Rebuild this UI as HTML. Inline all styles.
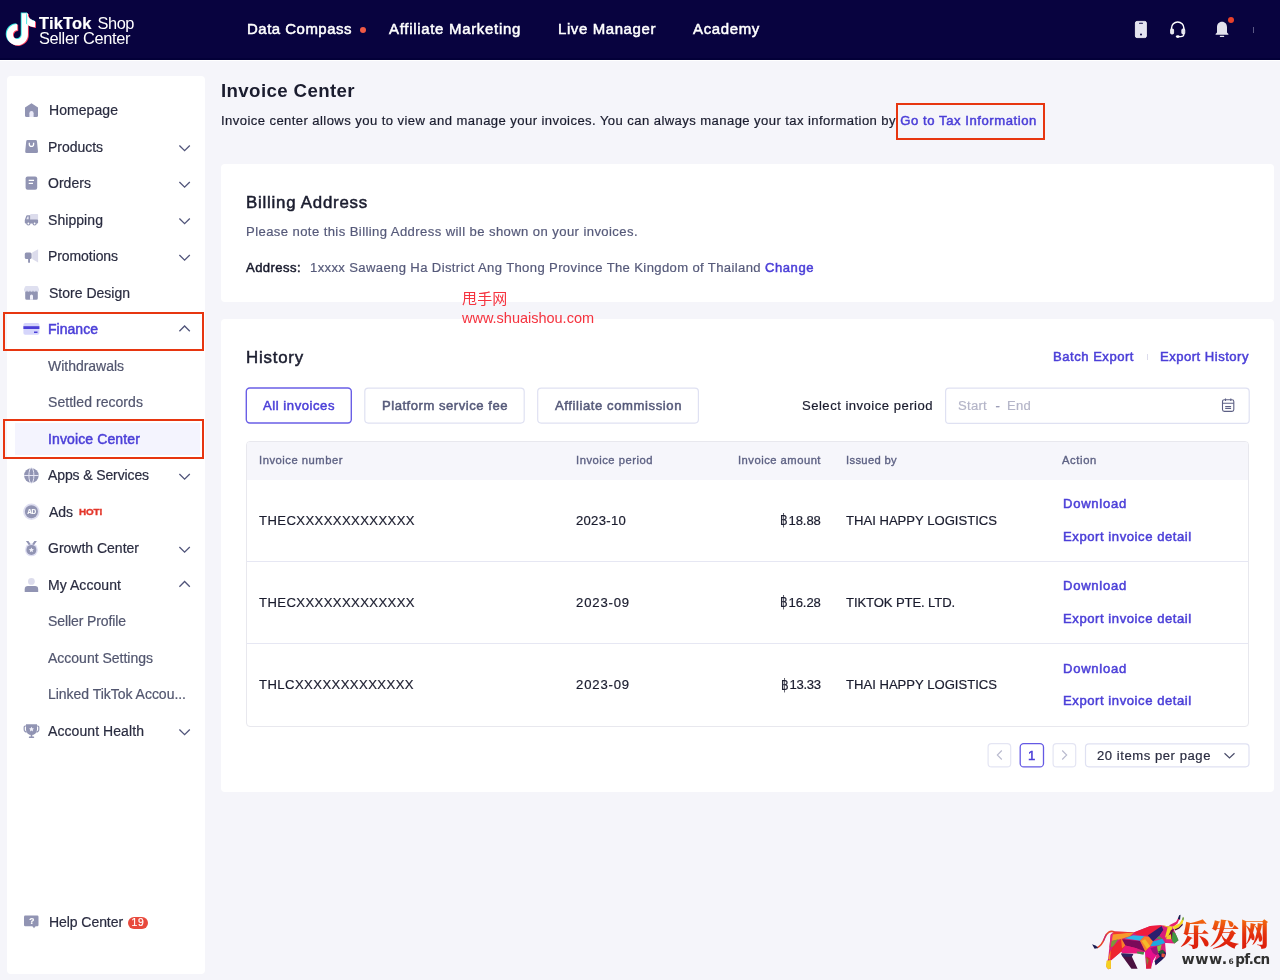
<!DOCTYPE html>
<html lang="en">
<head>
<meta charset="utf-8">
<title>Invoice Center</title>
<style>
*{box-sizing:border-box;margin:0;padding:0}
html,body{width:1280px;height:980px;overflow:hidden}
body{background:#f5f5fa;font-family:"Liberation Sans","Noto Sans CJK SC",sans-serif;color:#1c1c28;font-size:14px;position:relative}
.t{position:absolute;white-space:nowrap}
.a{position:absolute}
#hdr{left:0;top:0;width:1280px;height:60px;background:#08033f}
#side{left:7px;top:75.700px;width:198px;height:898.300px;background:#fff;border-radius:4px}
.card{left:221px;width:1053px;background:#fff;border-radius:4px}
.redbox{border:2.200px solid #e73610}
.tab{top:387.500px;height:36.500px;border:1px solid #dfe0f0;border-radius:4px;background:#fff}
.pg{top:743px;width:24px;height:24px;border:1px solid #e6e6f3;border-radius:4px;background:#fff}
svg{position:absolute;overflow:visible}
</style>
</head>
<body>
<div class="a" id="hdr"></div>
<div class="a" style="left:0;top:57.800px;width:1280px;height:2.200px;background:#030038"></div>
<div class="a" style="left:0;top:60px;width:1280px;height:1.200px;background:#fff"></div>
<!-- logo -->
<svg style="left:0;top:0" width="60" height="60" viewBox="0 0 60 60">
  <g fill="none" stroke-linejoin="miter">
    <path id="nt" d="M24.8 13.2V34.6a7.5 7.5 0 1 1-7.5-7.5" stroke="#35e6e0" stroke-width="6.3" transform="translate(-0.9,-0.7)"/>
    <path d="M24.8 13.2V34.6a7.5 7.5 0 1 1-7.5-7.5" stroke="#ff3b5c" stroke-width="6.3" transform="translate(0.9,0.7)"/>
    <path d="M24.8 13.2V34.6a7.5 7.5 0 1 1-7.5-7.5" stroke="#fff" stroke-width="6.3"/>
  </g>
  <path d="M27.2 12.8c.6 4.6 3.6 7.7 7.9 8.2v6.2c-3-.1-5.8-1.100-8-2.800z" fill="#35e6e0" transform="translate(-0.9,-0.7)"/>
  <path d="M27.2 12.8c.6 4.600 3.600 7.700 7.900 8.200v6.200c-3-.1-5.800-1.100-8-2.800z" fill="#ff3b5c" transform="translate(0.9,0.7)"/>
  <path d="M27.200 12.800c.6 4.600 3.600 7.700 7.900 8.200v6.200c-3-.1-5.800-1.100-8-2.800z" fill="#fff"/>
</svg>
<div class="a" style="left:359.800px;top:26.700px;width:6.200px;height:6.200px;border-radius:50%;background:#f05a46"></div>
<!-- header right icons -->
<svg style="left:1135px;top:21px" width="12" height="17" viewBox="0 0 12 17">
  <rect x="0.4" y="0.400" width="11" height="16.2" rx="1.6" fill="#e4e4f0" stroke="#fff" stroke-width=".8"/>
  <rect x="4" y="1.8" width="4" height="1" rx=".5" fill="#0a0440"/>
  <circle cx="6" cy="13.6" r="1" fill="#0a0440"/>
</svg>
<svg style="left:1169px;top:20px" width="18" height="19" viewBox="0 0 18 19" fill="none" stroke="#fff">
  <path d="M2.500 10.500V8.200a6.200 6.200 0 0 1 12.400 0v2.300" stroke-width="1.500"/>
  <rect x="1.600" y="9" width="3" height="5" rx="1" fill="#e4e4f0" stroke-width=".8"/>
  <rect x="12.800" y="9" width="3" height="5" rx="1" fill="#e4e4f0" stroke-width=".8"/>
  <path d="M14.900 13.500v.8c0 1.500-1.200 2.300-3.200 2.300h-2" stroke-width="1.200"/>
  <ellipse cx="8.800" cy="16.600" rx="1.900" ry="1.300" fill="#fff" stroke="none"/>
</svg>
<svg style="left:1215px;top:21px" width="14" height="17" viewBox="0 0 14 17">
  <path d="M7 .8C3.900.8 2 3.200 2 6.200v5.300L.6 12.900v.9h12.800v-.9L12 11.500V6.200c0-3-1.900-5.400-5-5.400z" fill="#e2e2ec"/>
  <rect x="4.800" y="14.800" width="4.400" height="1.200" rx=".6" fill="#e2e2ec"/>
</svg>
<div class="a" style="left:1227.800px;top:16.800px;width:6.400px;height:6.400px;border-radius:50%;background:#e8412b"></div>
<div class="a" style="left:1252.500px;top:26.500px;width:1px;height:6px;background:#5b5985"></div>

<!-- sidebar -->
<div class="a" id="side"></div>
<div class="a" style="left:15px;top:423px;width:185px;height:32px;background:#f4f4fe"></div>
<div class="a redbox" style="left:3.400px;top:311.900px;width:200.600px;height:39.200px;border-width:2.500px"></div>
<div class="a redbox" style="left:2.800px;top:419.200px;width:201px;height:39.500px"></div>
<svg style="left:0;top:0" width="210" height="980" viewBox="0 0 210 980">
<path d="M25 107.600L31.500 103.300L38 107.600V115.400a1.500 1.500 0 0 1-1.500 1.500H26.500a1.500 1.500 0 0 1-1.500-1.500z" fill="#9194b3"/>
<path d="M29.400 116.900V113.200a2.100 2.100 0 0 1 4.200 0V116.900z" fill="#ebebf9"/>
<path d="M27.700 140H35.500a1.500 1.500 0 0 1 1.500 1.400L38 151.400a1.600 1.600 0 0 1-1.600 1.700H26.800a1.600 1.600 0 0 1-1.600-1.700L26.200 141.400a1.500 1.500 0 0 1 1.500-1.400z" fill="#9194b3"/>
<path d="M29.300 142.700v1.600a2.150 2.150 0 0 0 4.300 0v-1.600" fill="none" stroke="#fff" stroke-width="1.300"/>
<rect x="25.600" y="176.400" width="11.600" height="13.300" rx="2" fill="#9194b3"/>
<path d="M28.700 180.300H34M28.700 183.300H33" stroke="#fff" stroke-width="1.200" fill="none"/>
<rect x="30.200" y="214" width="7.900" height="6" rx=".8" fill="#dcdcec"/>
<path d="M24.800 220L26.300 215.800a1 1 0 0 1 .9-.6H30.200V220z" fill="#9194b3"/>
<rect x="24.800" y="219.600" width="13.300" height="4" rx="1" fill="#9194b3"/>
<circle cx="28.400" cy="223.500" r="2.100" fill="#9194b3"/><circle cx="34.600" cy="223.500" r="2.100" fill="#9194b3"/>
<circle cx="28.400" cy="223.500" r=".9" fill="#fff"/><circle cx="34.600" cy="223.500" r=".9" fill="#fff"/>
<path d="M26.400 219.300L27.500 216.400H28.600V219.300z" fill="#e8e8f4"/>
<rect x="24.800" y="252.400" width="6.800" height="6.700" rx="1.500" fill="#9194b3"/>
<rect x="28.100" y="258.500" width="1.900" height="4.200" rx=".5" fill="#9194b3"/>
<path d="M32.200 252.600L38.100 249.300V262.600L32.200 259z" fill="#dcdcec"/>
<path d="M25.200 290H37.800V298.300a1.500 1.500 0 0 1-1.500 1.500H26.700a1.500 1.500 0 0 1-1.500-1.500z" fill="#9194b3"/>
<path d="M26 286H37a1 1 0 0 1 .9.600L39 289.300V290.300a1.500 1.500 0 0 1-3 0a1.500 1.500 0 0 1-3 0a1.500 1.500 0 0 1-3 0a1.500 1.500 0 0 1-3 0a1.500 1.500 0 0 1-3 0V289.300L25.100 286.600a1 1 0 0 1 .9-.6z" fill="#dfe0f0"/>
<path d="M30 299.800V296a1.500 1.500 0 0 1 3 0V299.800z" fill="#f2f2fb"/>
<rect x="23.400" y="323.100" width="16" height="11.600" rx="1.800" fill="#d5d5fb"/>
<rect x="23.400" y="326.200" width="16" height="2.800" fill="#4b3fd8"/>
<rect x="34" y="331.500" width="3.500" height="1.500" fill="#4b3fd8"/>
<circle cx="31.400" cy="475.500" r="7.300" fill="#9194b3"/>
<path d="M24.100 475.500H38.700" stroke="#e6e6f4" stroke-width="1"/>
<ellipse cx="31.400" cy="475.500" rx="2.500" ry="7.800" fill="none" stroke="#e6e6f4" stroke-width="1"/>
<circle cx="31.400" cy="511.700" r="8.200" fill="#dedef0"/>
<circle cx="31.400" cy="511.700" r="6.500" fill="#9194b3"/>
<circle cx="31.400" cy="549.900" r="6.400" fill="#dedef2"/>
<circle cx="31.400" cy="549.900" r="5" fill="#9194b3"/>
<path d="M25.900 540.900H28.400L30.700 544.200L28.800 545zM36.900 540.900H34.400L32.100 544.200L34 545z" fill="#9194b3"/>
<path d="M31.400 547.400l.75 1.600 1.750.2-1.300 1.200.35 1.750-1.550-.9-1.550.9.350-1.750-1.300-1.200 1.750-.2z" fill="#f2f2fb"/>
<circle cx="31.400" cy="581.400" r="3.400" fill="#dcdcec"/>
<path d="M24.700 591.900V589.200a3.200 3.200 0 0 1 3.200-3.200h7.100a3.200 3.200 0 0 1 3.200 3.200v2.700z" fill="#9194b3"/>
<path d="M26 724.300H37V729.500a5.500 5.500 0 0 1-11 0z" fill="#9194b3"/>
<path d="M26 726H25.200a1 1 0 0 0-1 1V729.500a2.500 2.500 0 0 0 2.500 2.500M37 726H37.800a1 1 0 0 1 1 1V729.500a2.500 2.500 0 0 1-2.500 2.500" fill="none" stroke="#9194b3" stroke-width="1.200"/>
<rect x="30.700" y="734" width="1.600" height="3.200" fill="#9194b3"/><rect x="28.800" y="736.600" width="5.400" height="1.300" rx=".6" fill="#9194b3"/>
<path d="M31.500 726.700l.8 1.600 1.700.2-1.300 1.200.35 1.700-1.550-.85-1.550.85.350-1.700-1.300-1.200 1.700-.2z" fill="#f2f2fb"/>
<rect x="24" y="915.600" width="14.500" height="10.700" rx="1.200" fill="#9194b3"/>
<path d="M32.300 926L34 928.200L35.700 926z" fill="#9194b3"/>
<path d="M179.400 145.5L184.600 150.7L189.800 145.5" fill="none" stroke="#50547a" stroke-width="1.300"/>
<path d="M179.400 182.0L184.600 187.2L189.800 182.0" fill="none" stroke="#50547a" stroke-width="1.300"/>
<path d="M179.400 218.5L184.600 223.7L189.800 218.5" fill="none" stroke="#50547a" stroke-width="1.300"/>
<path d="M179.400 255.0L184.600 260.2L189.800 255.0" fill="none" stroke="#50547a" stroke-width="1.300"/>
<path d="M179.400 474.0L184.600 479.2L189.800 474.0" fill="none" stroke="#50547a" stroke-width="1.300"/>
<path d="M179.400 547.0L184.600 552.2L189.800 547.0" fill="none" stroke="#50547a" stroke-width="1.300"/>
<path d="M179.400 729.5L184.600 734.7L189.800 729.5" fill="none" stroke="#50547a" stroke-width="1.300"/>
<path d="M179.400 331.2L184.600 326.0L189.800 331.2" fill="none" stroke="#50547a" stroke-width="1.300"/>
<path d="M179.400 586.7L184.600 581.5L189.800 586.7" fill="none" stroke="#50547a" stroke-width="1.300"/>
</svg>
<!-- main -->
<div class="a redbox" style="left:896.200px;top:102.900px;width:149.100px;height:37px"></div>
<div class="a card" style="top:163.800px;height:138.400px"></div>
<div class="a card" style="top:318.800px;height:472.900px"></div>
<div class="a" style="left:1146.500px;top:354px;width:1px;height:6px;background:#dcdcec"></div>
<svg style="left:0;top:0" width="1280" height="980" viewBox="0 0 1280 980" fill="#fff">
  <rect x="246.300" y="388" width="105" height="35" rx="3.500" stroke="#6a5fe6" stroke-width="1.400"/>
  <rect x="364.800" y="388.100" width="159.400" height="35" rx="3.500" stroke="#dfe1f2" stroke-width="1.200"/>
  <rect x="537.700" y="388.100" width="160.700" height="35" rx="3.500" stroke="#dfe1f2" stroke-width="1.200"/>
  <rect x="945.600" y="388.100" width="303.600" height="35.300" rx="3.500" stroke="#dfe1f2" stroke-width="1.200"/>
</svg>
<svg style="left:1221px;top:398px" width="15" height="15" viewBox="0 0 15 15" fill="none" stroke="#5d6085" stroke-width="1.100">
  <rect x="1.500" y="1.700" width="11.300" height="11.700" rx="1.800"/>
  <path d="M1.500 5.200h11.300M4.500.6v2.400M9.800.6v2.400M4.200 8.600h5.900M4.200 10.500h5.900"/>
</svg>
<!-- table -->
<div class="a" style="left:246px;top:440.500px;width:1003px;height:286px;border:1px solid #e8e8ee;border-radius:4px;background:#fff;overflow:hidden">
  <div class="a" style="left:0;top:0;width:1002px;height:38.500px;background:#f6f6fb"></div>
  <div class="a" style="left:0;top:119.700px;width:1002px;height:1px;background:#e6e7f3"></div>
  <div class="a" style="left:0;top:201.900px;width:1002px;height:1px;background:#e6e7f3"></div>
</div>
<!-- pagination -->
<svg style="left:0;top:0" width="1280" height="980" viewBox="0 0 1280 980" fill="#fff">
  <rect x="988.100" y="743.700" width="22.600" height="23.200" rx="3.500" stroke="#e4e5f3" stroke-width="1.200"/>
  <rect x="1020.200" y="743.700" width="23.300" height="23.200" rx="3.500" stroke="#6459e4" stroke-width="1.300"/>
  <rect x="1053.100" y="743.700" width="22.600" height="23.200" rx="3.500" stroke="#e4e5f3" stroke-width="1.200"/>
  <rect x="1085.500" y="743.900" width="163.500" height="22.900" rx="3.500" stroke="#dfe1f2" stroke-width="1.200"/>
</svg>
<svg style="left:993.800px;top:749px" width="12" height="12" viewBox="0 0 12 12" fill="none" stroke="#b9bace" stroke-width="1.100"><path d="M7.800 1.500L3.300 6l4.500 4.500"/></svg>
<svg style="left:1058px;top:749px" width="12" height="12" viewBox="0 0 12 12" fill="none" stroke="#b9bace" stroke-width="1.100"><path d="M4.200 1.500L8.700 6l-4.500 4.500"/></svg>
<svg style="left:1223px;top:749px" width="13" height="13" viewBox="0 0 13 13" fill="none" stroke="#4a4d6a" stroke-width="1.200"><path d="M1.500 4.200l5 4.800 5-4.800"/></svg>
<!-- help badge -->
<div class="a" style="left:128px;top:917px;width:20px;height:12px;border-radius:6px;background:#e8493c"></div>
<svg style="left:1085px;top:905px" width="110" height="75" viewBox="0 0 1280 873"><polygon points="300,340 345,308 570,318 760,245 892,235 962,246 1022,250 1032,278 1052,330 1088,410 1042,447 950,442 932,442 942,560 932,602 822,702 810,652 832,582 792,642 765,735 712,738 704,600 700,545 625,562 440,562 420,545 300,645 302,740 270,747 244,716 270,620 282,505" fill="#d8207a"/><path d="M345 316C295 290 250 320 228 385C208 440 185 480 140 497" fill="none" stroke="#e8472c" stroke-width="19"/><path d="M250 340C235 360 228 385 215 420" fill="none" stroke="#c8207a" stroke-width="12"/><polygon points="82,458 128,474 152,500 112,508" fill="#1a1a50"/><polygon points="320,335 570,320 520,365 420,395 310,420" fill="#f79a2c"/><polygon points="345,308 570,318 320,342" fill="#f0382c"/><polygon points="298,350 322,335 312,440 282,505" fill="#e8287c"/><polygon points="310,420 385,398 330,480 298,492" fill="#7a9a3a"/><polygon points="330,480 420,395 470,470 420,545 300,645 285,560" fill="#ee2530"/><polygon points="420,395 442,400 472,470 430,502" fill="#f7802a"/><polygon points="570,320 760,245 892,235 850,290 730,356 600,346" fill="#ee1c3c"/><polygon points="730,356 892,243 912,290 870,352 790,424" fill="#2a1f6e"/><polygon points="462,386 560,352 692,364 640,417" fill="#2eb8e8"/><polygon points="430,398 640,418 702,542 600,502 470,470" fill="#7a0a5a"/><polygon points="640,416 692,364 742,370 792,426 760,482 702,542" fill="#f7832a"/><polygon points="660,420 700,400 760,480 720,510" fill="#f5b82a"/><polygon points="470,470 600,502 625,562 440,562 420,545" fill="#e8187c"/><polygon points="600,540 690,548 680,580 610,565" fill="#4a8a4a"/><polygon points="700,540 760,480 832,500 832,582 792,642 765,735 712,738 704,600" fill="#e8108c"/><polygon points="760,500 842,480 852,562 830,585 790,560" fill="#a0127a"/><polygon points="760,480 792,425 902,394 932,442 852,472" fill="#1ea8e0"/><polygon points="838,482 892,460 872,542 852,562" fill="#8ac840"/><polygon points="715,600 762,622 772,738 712,740" fill="#d8203a"/><polygon points="705,600 742,642 722,702" fill="#8a7a3a"/><polygon points="870,352 912,290 952,280 932,382 902,396" fill="#d81e7a"/><polygon points="830,392 862,360 902,396" fill="#4a9a4a"/><polygon points="892,235 962,246 1022,250 962,262" fill="#f0d020"/><polygon points="930,382 962,260 1022,250 1000,332" fill="#f5d820"/><polygon points="1000,290 1032,278 1012,402 962,380" fill="#6a1040"/><polygon points="1020,308 1052,330 1088,410 1042,447 1010,420" fill="#3e9a40"/><polygon points="940,400 1012,400 1016,432 950,442" fill="#e8207c"/><polygon points="950,360 1000,340 1005,400 945,400" fill="#f5c82a"/><polygon points="975,240 1060,196 1080,160 1098,165 1076,216 1030,252" fill="#e8206c"/><polygon points="1080,160 1096,118 1112,114 1106,172 1096,170" fill="#1a1a50"/><polygon points="1020,250 1100,214 1128,168 1146,178 1134,216 1090,262 1040,286" fill="#f5d820"/><polygon points="1128,168 1140,138 1152,150 1146,180" fill="#6a9a30"/><polygon points="1040,286 1090,262 1134,216 1138,232 1095,275 1050,296" fill="#4a1030"/><polygon points="420,565 562,570 546,602 612,742 540,742 430,592" fill="#4a1040"/><polygon points="420,565 562,570 540,602 442,602" fill="#2a2560"/><polygon points="300,520 270,620 292,642" fill="#f7902a"/><polygon points="250,650 302,640 302,740 270,747 244,716" fill="#f5d020"/><polygon points="850,562 902,520 942,560 932,602 892,642 822,702 810,652 872,602" fill="#1e1a5a"/><polygon points="890,560 932,570 922,612 890,602" fill="#e8503a"/><polygon points="850,542 902,520 932,546 880,572" fill="#2a5a3a"/></svg>
<div class="t" style='left:247px;top:16.7px;font-size:14.96px;line-height:23px;color:#fff;letter-spacing:0.508px;-webkit-text-stroke:0.5px #fff;'>Data Compass</div>
<div class="t" style='left:389px;top:16.7px;font-size:14.96px;line-height:23px;color:#fff;letter-spacing:0.706px;-webkit-text-stroke:0.5px #fff;'>Affiliate Marketing</div>
<div class="t" style='left:558px;top:16.7px;font-size:14.96px;line-height:23px;color:#fff;letter-spacing:0.616px;-webkit-text-stroke:0.5px #fff;'>Live Manager</div>
<div class="t" style='left:693px;top:16.7px;font-size:14.96px;line-height:23px;color:#fff;letter-spacing:0.665px;-webkit-text-stroke:0.5px #fff;'>Academy</div>
<div class="t" style='left:49px;top:100.0px;font-size:14px;line-height:20px;color:#2a2c40;letter-spacing:0.062px;-webkit-text-stroke:0.2px #2a2c40;'>Homepage</div>
<div class="t" style='left:48px;top:137.0px;font-size:14px;line-height:20px;color:#2a2c40;letter-spacing:-0.031px;-webkit-text-stroke:0.2px #2a2c40;'>Products</div>
<div class="t" style='left:48px;top:173.0px;font-size:14px;line-height:20px;color:#2a2c40;letter-spacing:0.034px;-webkit-text-stroke:0.2px #2a2c40;'>Orders</div>
<div class="t" style='left:48px;top:210.0px;font-size:14px;line-height:20px;color:#2a2c40;letter-spacing:0.062px;-webkit-text-stroke:0.2px #2a2c40;'>Shipping</div>
<div class="t" style='left:48px;top:246.0px;font-size:14px;line-height:20px;color:#2a2c40;letter-spacing:-0.081px;-webkit-text-stroke:0.2px #2a2c40;'>Promotions</div>
<div class="t" style='left:49px;top:283.0px;font-size:14px;line-height:20px;color:#2a2c40;letter-spacing:0.005px;-webkit-text-stroke:0.2px #2a2c40;'>Store Design</div>
<div class="t" style='left:48px;top:319.0px;font-size:14px;line-height:20px;color:#4b3fd8;letter-spacing:0.027px;-webkit-text-stroke:0.5px #4b3fd8;'>Finance</div>
<div class="t" style='left:48px;top:356.0px;font-size:14px;line-height:20px;color:#52566f;letter-spacing:-0.023px;-webkit-text-stroke:0.2px #52566f;'>Withdrawals</div>
<div class="t" style='left:48px;top:392.0px;font-size:14px;line-height:20px;color:#52566f;letter-spacing:0.055px;-webkit-text-stroke:0.2px #52566f;'>Settled records</div>
<div class="t" style='left:48px;top:429.0px;font-size:14px;line-height:20px;color:#4b3fd8;letter-spacing:0.123px;-webkit-text-stroke:0.5px #4b3fd8;'>Invoice Center</div>
<div class="t" style='left:48px;top:465.0px;font-size:14px;line-height:20px;color:#2a2c40;letter-spacing:-0.115px;-webkit-text-stroke:0.2px #2a2c40;'>Apps &amp; Services</div>
<div class="t" style='left:49px;top:502.0px;font-size:14px;line-height:20px;color:#2a2c40;letter-spacing:-0.042px;-webkit-text-stroke:0.2px #2a2c40;'>Ads</div>
<div class="t" style='left:48px;top:538.0px;font-size:14px;line-height:20px;color:#2a2c40;letter-spacing:-0.004px;-webkit-text-stroke:0.2px #2a2c40;'>Growth Center</div>
<div class="t" style='left:48px;top:575.0px;font-size:14px;line-height:20px;color:#2a2c40;letter-spacing:0.062px;-webkit-text-stroke:0.2px #2a2c40;'>My Account</div>
<div class="t" style='left:48px;top:611.0px;font-size:14px;line-height:20px;color:#52566f;letter-spacing:-0.098px;-webkit-text-stroke:0.2px #52566f;'>Seller Profile</div>
<div class="t" style='left:48px;top:648.0px;font-size:14px;line-height:20px;color:#52566f;letter-spacing:-0.004px;-webkit-text-stroke:0.2px #52566f;'>Account Settings</div>
<div class="t" style='left:48px;top:684.0px;font-size:14px;line-height:20px;color:#52566f;letter-spacing:-0.024px;-webkit-text-stroke:0.2px #52566f;'>Linked TikTok Accou...</div>
<div class="t" style='left:48px;top:721.0px;font-size:14px;line-height:20px;color:#2a2c40;letter-spacing:0.075px;-webkit-text-stroke:0.2px #2a2c40;'>Account Health</div>
<div class="t" style='left:79px;top:505.4px;font-size:9.9px;line-height:14px;color:#e3362a;letter-spacing:-0.160px;font-weight:700;-webkit-text-stroke:0.4px #e3362a;'>HOT!</div>
<div class="t" style='left:27.3px;top:507.4px;font-size:6.5px;line-height:9px;color:#fff;letter-spacing:-0.495px;font-weight:700;-webkit-text-stroke:0.1px #fff;'>AD</div>
<div class="t" style='left:29.3px;top:914.7px;font-size:8.42px;line-height:13px;color:#fff;letter-spacing:0.000px;font-weight:700;-webkit-text-stroke:0.2px #fff;'>?</div>
<div class="t" style='left:49px;top:912.3px;font-size:14px;line-height:20px;color:#2a2c40;letter-spacing:-0.064px;-webkit-text-stroke:0.2px #2a2c40;'>Help Center</div>
<div class="t" style='left:131.5px;top:915.0px;font-size:10.29px;line-height:16px;color:#fff;letter-spacing:0.781px;-webkit-text-stroke:0.2px #fff;'>19</div>
<div class="t" style='left:221px;top:76.0px;font-size:18.7px;line-height:29px;color:#1a1c2e;letter-spacing:0.373px;font-weight:700;'>Invoice Center</div>
<div class="t" style='left:221px;top:111.0px;font-size:13.09px;line-height:20px;color:#1a1c2e;letter-spacing:0.419px;-webkit-text-stroke:0.2px #1a1c2e;'>Invoice center allows you to view and manage your invoices. You can always manage your tax information by</div>
<div class="t" style='left:900.3px;top:111.2px;font-size:13.09px;line-height:20px;color:#4b3fd8;letter-spacing:0.562px;-webkit-text-stroke:0.5px #4b3fd8;'>Go to Tax Information</div>
<div class="t" style='left:246px;top:190.0px;font-size:16.83px;line-height:26px;color:#1a1c2e;letter-spacing:0.774px;-webkit-text-stroke:0.5px #1a1c2e;'>Billing Address</div>
<div class="t" style='left:246px;top:221.5px;font-size:13.09px;line-height:20px;color:#565a7a;letter-spacing:0.411px;-webkit-text-stroke:0.2px #565a7a;'>Please note this Billing Address will be shown on your invoices.</div>
<div class="t" style='left:246px;top:257.5px;font-size:13.09px;line-height:20px;color:#1a1c2e;letter-spacing:0.422px;-webkit-text-stroke:0.5px #1a1c2e;'>Address:</div>
<div class="t" style='left:310px;top:257.5px;font-size:13.09px;line-height:20px;color:#565a7a;letter-spacing:0.367px;-webkit-text-stroke:0.2px #565a7a;'>1xxxx Sawaeng Ha District Ang Thong Province The Kingdom of Thailand</div>
<div class="t" style='left:765px;top:257.5px;font-size:13.09px;line-height:20px;color:#4b3fd8;letter-spacing:0.531px;-webkit-text-stroke:0.5px #4b3fd8;'>Change</div>
<div class="t" style='left:462px;top:286.8px;font-size:15px;line-height:22px;color:#f5333f;letter-spacing:0.161px;font-family:"Noto Sans CJK SC",sans-serif;'>甩手网</div>
<div class="t" style='left:462px;top:307.8px;font-size:14.5px;line-height:21px;color:#f5333f;letter-spacing:-0.010px;-webkit-text-stroke:0.01px #f5333f;'>www.shuaishou.com</div>
<div class="t" style='left:246px;top:345.0px;font-size:16.83px;line-height:26px;color:#1a1c2e;letter-spacing:0.806px;-webkit-text-stroke:0.5px #1a1c2e;'>History</div>
<div class="t" style='left:1053px;top:347.0px;font-size:13.09px;line-height:20px;color:#4b3fd8;letter-spacing:0.510px;-webkit-text-stroke:0.5px #4b3fd8;'>Batch Export</div>
<div class="t" style='left:1160px;top:347.0px;font-size:13.09px;line-height:20px;color:#4b3fd8;letter-spacing:0.491px;-webkit-text-stroke:0.5px #4b3fd8;'>Export History</div>
<div class="t" style='left:263px;top:395.5px;font-size:13.09px;line-height:20px;color:#4b3fd8;letter-spacing:0.548px;-webkit-text-stroke:0.5px #4b3fd8;'>All invoices</div>
<div class="t" style='left:382px;top:395.5px;font-size:13.09px;line-height:20px;color:#565a7a;letter-spacing:0.521px;-webkit-text-stroke:0.5px #565a7a;'>Platform service fee</div>
<div class="t" style='left:555px;top:395.5px;font-size:13.09px;line-height:20px;color:#565a7a;letter-spacing:0.584px;-webkit-text-stroke:0.5px #565a7a;'>Affiliate commission</div>
<div class="t" style='left:802px;top:395.5px;font-size:13.09px;line-height:20px;color:#1a1c2e;letter-spacing:0.491px;-webkit-text-stroke:0.2px #1a1c2e;'>Select invoice period</div>
<div class="t" style='left:958px;top:395.5px;font-size:13.09px;line-height:20px;color:#b4b5c8;letter-spacing:0.275px;-webkit-text-stroke:0.2px #b4b5c8;'>Start</div>
<div class="t" style='left:995.5px;top:395.5px;font-size:13.09px;line-height:20px;color:#9698b3;letter-spacing:0.141px;-webkit-text-stroke:0.3px #9698b3;'>-</div>
<div class="t" style='left:1007px;top:395.5px;font-size:13.09px;line-height:20px;color:#b4b5c8;letter-spacing:0.240px;-webkit-text-stroke:0.2px #b4b5c8;'>End</div>
<div class="t" style='left:259px;top:451.5px;font-size:11.22px;line-height:17px;color:#5e6284;letter-spacing:0.521px;-webkit-text-stroke:0.35px #5e6284;'>Invoice number</div>
<div class="t" style='left:576px;top:451.5px;font-size:11.22px;line-height:17px;color:#5e6284;letter-spacing:0.510px;-webkit-text-stroke:0.35px #5e6284;'>Invoice period</div>
<div class="t" style='left:738px;top:451.5px;font-size:11.22px;line-height:17px;color:#5e6284;letter-spacing:0.493px;-webkit-text-stroke:0.35px #5e6284;'>Invoice amount</div>
<div class="t" style='left:846px;top:451.5px;font-size:11.22px;line-height:17px;color:#5e6284;letter-spacing:0.330px;-webkit-text-stroke:0.35px #5e6284;'>Issued by</div>
<div class="t" style='left:1062px;top:451.5px;font-size:11.22px;line-height:17px;color:#5e6284;letter-spacing:0.635px;-webkit-text-stroke:0.35px #5e6284;'>Action</div>
<div class="t" style='left:259px;top:510.5px;font-size:13.09px;line-height:20px;color:#1a1c2e;letter-spacing:0.412px;-webkit-text-stroke:0.2px #1a1c2e;'>THECXXXXXXXXXXXXX</div>
<div class="t" style='left:576px;top:510.5px;font-size:13.09px;line-height:20px;color:#1a1c2e;letter-spacing:0.286px;-webkit-text-stroke:0.2px #1a1c2e;'>2023-10</div>
<div class="t" style='left:780.2px;top:509.2px;font-size:15.5px;line-height:22px;color:#1a1c2e;letter-spacing:0.000px;-webkit-text-stroke:0.15px #1a1c2e;font-family:"DejaVu Sans",sans-serif;transform:scaleX(.78);transform-origin:0 50%;'>฿</div>
<div class="t" style='left:788.5px;top:510.5px;font-size:13.09px;line-height:20px;color:#1a1c2e;letter-spacing:-0.087px;-webkit-text-stroke:0.2px #1a1c2e;'>18.88</div>
<div class="t" style='left:846px;top:510.5px;font-size:13.09px;line-height:20px;color:#1a1c2e;letter-spacing:0.003px;-webkit-text-stroke:0.2px #1a1c2e;'>THAI HAPPY LOGISTICS</div>
<div class="t" style='left:1063px;top:494.0px;font-size:13.09px;line-height:20px;color:#4b3fd8;letter-spacing:0.729px;-webkit-text-stroke:0.5px #4b3fd8;'>Download</div>
<div class="t" style='left:1063px;top:526.5px;font-size:13.09px;line-height:20px;color:#4b3fd8;letter-spacing:0.560px;-webkit-text-stroke:0.5px #4b3fd8;'>Export invoice detail</div>
<div class="t" style='left:259px;top:592.5px;font-size:13.09px;line-height:20px;color:#1a1c2e;letter-spacing:0.412px;-webkit-text-stroke:0.2px #1a1c2e;'>THECXXXXXXXXXXXXX</div>
<div class="t" style='left:576px;top:592.5px;font-size:13.09px;line-height:20px;color:#1a1c2e;letter-spacing:0.857px;-webkit-text-stroke:0.2px #1a1c2e;'>2023-09</div>
<div class="t" style='left:780.2px;top:591.2px;font-size:15.5px;line-height:22px;color:#1a1c2e;letter-spacing:0.000px;-webkit-text-stroke:0.15px #1a1c2e;font-family:"DejaVu Sans",sans-serif;transform:scaleX(.78);transform-origin:0 50%;'>฿</div>
<div class="t" style='left:788.5px;top:592.5px;font-size:13.09px;line-height:20px;color:#1a1c2e;letter-spacing:-0.087px;-webkit-text-stroke:0.2px #1a1c2e;'>16.28</div>
<div class="t" style='left:846px;top:592.5px;font-size:13.09px;line-height:20px;color:#1a1c2e;letter-spacing:-0.106px;-webkit-text-stroke:0.2px #1a1c2e;'>TIKTOK PTE. LTD.</div>
<div class="t" style='left:1063px;top:576.0px;font-size:13.09px;line-height:20px;color:#4b3fd8;letter-spacing:0.729px;-webkit-text-stroke:0.5px #4b3fd8;'>Download</div>
<div class="t" style='left:1063px;top:608.5px;font-size:13.09px;line-height:20px;color:#4b3fd8;letter-spacing:0.560px;-webkit-text-stroke:0.5px #4b3fd8;'>Export invoice detail</div>
<div class="t" style='left:259px;top:675.0px;font-size:13.09px;line-height:20px;color:#1a1c2e;letter-spacing:0.438px;-webkit-text-stroke:0.2px #1a1c2e;'>THLCXXXXXXXXXXXXX</div>
<div class="t" style='left:576px;top:675.0px;font-size:13.09px;line-height:20px;color:#1a1c2e;letter-spacing:0.857px;-webkit-text-stroke:0.2px #1a1c2e;'>2023-09</div>
<div class="t" style='left:781.2px;top:673.7px;font-size:15.5px;line-height:22px;color:#1a1c2e;letter-spacing:0.000px;-webkit-text-stroke:0.15px #1a1c2e;font-family:"DejaVu Sans",sans-serif;transform:scaleX(.78);transform-origin:0 50%;'>฿</div>
<div class="t" style='left:789.5px;top:675.0px;font-size:13.09px;line-height:20px;color:#1a1c2e;letter-spacing:-0.287px;-webkit-text-stroke:0.2px #1a1c2e;'>13.33</div>
<div class="t" style='left:846px;top:675.0px;font-size:13.09px;line-height:20px;color:#1a1c2e;letter-spacing:0.003px;-webkit-text-stroke:0.2px #1a1c2e;'>THAI HAPPY LOGISTICS</div>
<div class="t" style='left:1063px;top:658.5px;font-size:13.09px;line-height:20px;color:#4b3fd8;letter-spacing:0.729px;-webkit-text-stroke:0.5px #4b3fd8;'>Download</div>
<div class="t" style='left:1063px;top:691.0px;font-size:13.09px;line-height:20px;color:#4b3fd8;letter-spacing:0.560px;-webkit-text-stroke:0.5px #4b3fd8;'>Export invoice detail</div>
<div class="t" style='left:1028px;top:745.5px;font-size:13.09px;line-height:20px;color:#4b3fd8;letter-spacing:-0.281px;-webkit-text-stroke:0.5px #4b3fd8;'>1</div>
<div class="t" style='left:1097px;top:745.5px;font-size:13.09px;line-height:20px;color:#2a2c40;letter-spacing:0.547px;-webkit-text-stroke:0.2px #2a2c40;'>20 items per page</div>
<div class="t" style='left:1180px;top:911.8px;font-size:29.5px;line-height:40px;color:#e8350c;letter-spacing:0.328px;font-weight:900;font-family:"Noto Serif CJK SC","Noto Sans CJK SC",serif;background:linear-gradient(#f4700f 15%,#e4300c 55%,#dc1c0c 90%);-webkit-background-clip:text;background-clip:text;-webkit-text-fill-color:transparent;'>乐发网</div>
<div class="t" style='left:1181.6px;top:948.9px;font-size:14.3px;line-height:20px;color:#303030;letter-spacing:0.515px;font-weight:700;font-family:"DejaVu Sans","Liberation Sans",sans-serif;'>www.</div>
<div class="t" style='left:1228.6px;top:955.8px;font-size:7.5px;line-height:11px;color:#303030;letter-spacing:0.000px;font-weight:700;font-family:"DejaVu Sans","Liberation Sans",sans-serif;'>6</div>
<div class="t" style='left:1235.3px;top:949.2px;font-size:13.5px;line-height:20px;color:#303030;letter-spacing:-0.669px;font-weight:700;font-family:"DejaVu Sans","Liberation Sans",sans-serif;'>pf.cn</div>
<div class="t" style='left:39px;top:11.3px;font-size:16.4px;line-height:25px;color:#fff;letter-spacing:0.198px;font-weight:700;-webkit-text-stroke:0.2px #fff;font-family:"Liberation Sans",sans-serif;'>TikTok</div>
<div class="t" style='left:97.5px;top:11.3px;font-size:16.4px;line-height:25px;color:#fff;letter-spacing:-0.445px;font-family:"Liberation Sans",sans-serif;'>Shop</div>
<div class="t" style='left:39px;top:26.2px;font-size:16.4px;line-height:25px;color:#fff;letter-spacing:-0.358px;font-family:"Liberation Sans",sans-serif;'>Seller Center</div>
</body>
</html>
